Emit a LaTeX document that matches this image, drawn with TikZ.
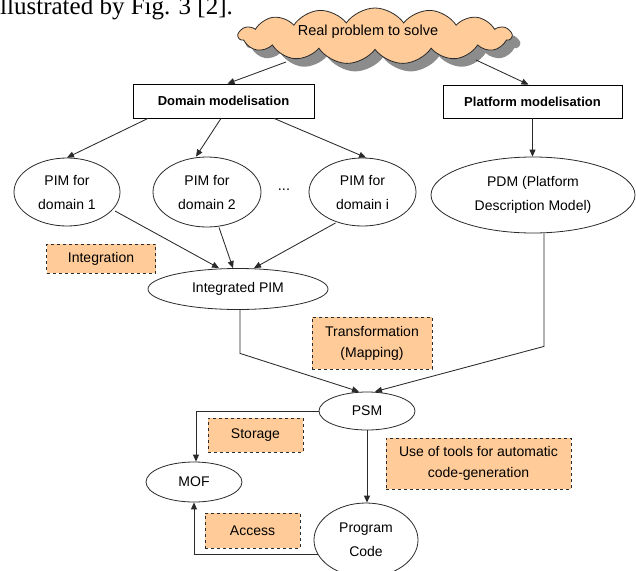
\documentclass[tikz,border=0pt]{standalone}
\usepackage{fontspec}
\setmainfont{Liberation Sans}
\newfontfamily\capfont{Liberation Serif}
\usetikzlibrary{shapes.geometric,shapes.symbols,arrows.meta,shadows,calc}
\definecolor{peach}{HTML}{FFCC99}
\definecolor{ink}{HTML}{2A2A2A}
\begin{document}
\begin{tikzpicture}[x=1pt,y=-1pt,
  every node/.style={font=\fontsize{14.5}{16}\selectfont, text=black},
  conn/.style={draw=ink, line width=0.85pt},
  arr/.style={conn, -{Triangle[length=7pt,width=6pt]}},
  ell/.style={ellipse, draw=ink, line width=0.8pt, fill=white, inner sep=0pt, align=center, font=\fontsize{14}{24}\selectfont},
  modbox/.style={rectangle, draw=black, line width=0.8pt, fill=white, inner sep=0pt, font=\bfseries\fontsize{13}{15}\selectfont},
  notebox/.style={rectangle, draw=ink, dashed, line width=0.8pt, fill=peach, inner sep=0pt, align=center, font=\fontsize{14}{21}\selectfont}
]
\useasboundingbox (0,0) rectangle (636,570);
\clip (0,0) rectangle (636,570);
\fill[white] (0,0) rectangle (636,570);

\node[anchor=base west, inner sep=0pt, font=\capfont\fontsize{25}{27}\selectfont] (cap) at (0,14) {llustrated by Fig. 3 [2].};

\node[cloud, cloud puffs=15, cloud puff arc=110, aspect=5, draw=ink, line width=0.8pt, fill=peach,
      minimum width=273pt, minimum height=56pt, inner sep=0pt,
      drop shadow={shadow xshift=8pt, shadow yshift=-8pt, fill=gray!90, opacity=1}] (cloud) at (375,36) {};
\node (cloudtxt) at (368,32) {Real problem to solve};

\node[modbox, minimum width=181pt, minimum height=34pt] (dom) at (223.5,101) {Domain modelisation};
\node[modbox, minimum width=179pt, minimum height=33pt] (plat) at (532.5,101.5) {Platform modelisation};

\node[ell, minimum width=106pt, minimum height=68pt] (pim1) at (67,192) {PIM for\\domain 1};
\node[ell, minimum width=108pt, minimum height=70pt] (pim2) at (207,192) {PIM for\\domain 2};
\node (dots) at (284,190) {...};
\node[ell, minimum width=107pt, minimum height=68pt] (pimi) at (362.5,192) {PIM for\\domain i};
\node[ell, minimum width=204pt, minimum height=76pt] (pdm) at (533,195) {PDM (Platform\\Description Model)};

\node[notebox, minimum width=109pt, minimum height=29pt] (integ) at (101,258.5) {Integration};
\node[ell, minimum width=180pt, minimum height=41pt] (intpim) at (238,289) {Integrated PIM};
\node[notebox, minimum width=120pt, minimum height=52pt] (trans) at (372,343) {Transformation\\(Mapping)};

\node[ell, minimum width=96pt, minimum height=38pt] (psm) at (367,411) {PSM};
\node[notebox, minimum width=95pt, minimum height=34pt] (storage) at (255.5,435) {Storage};
\node[ell, minimum width=96pt, minimum height=40pt] (mof) at (194,482) {MOF};
\node[notebox, minimum width=185pt, minimum height=51pt] (tools) at (478.5,463.5) {Use of tools for automatic\\code-generation};
\node[ell, minimum width=104pt, minimum height=74pt] (prog) at (366,540) {Program\\Code};
\node[notebox, minimum width=95pt, minimum height=35pt] (access) at (252.5,530.5) {Access};

% connectors
\draw[arr] ($(cloud.center)+(-89,26)$) -- ([xshift=4pt]dom.north);
\draw[arr] ($(cloud.center)+(101,24)$) -- ([xshift=-4pt]plat.north);
\draw[arr] ([xshift=-75.5pt]dom.south) -- (pim1.north);
\draw[arr] ([xshift=-2.5pt]dom.south) -- ([xshift=-11pt]pim2.north);
\draw[arr] ([xshift=50.5pt]dom.south) -- ([xshift=3.5pt]pimi.north);
\draw[arr] (plat.south) -- (plat.south |- pdm.north);
\draw[arr] ($(pim1)+(48,19)$) -- ([xshift=-19pt]intpim.north);
\draw[arr] ([xshift=12pt]pim2.south) -- ([xshift=-5pt]intpim.north);
\draw[arr] ($(pimi)+(-27,31)$) -- ([xshift=16pt]intpim.north);
\draw[arr] ([xshift=2pt]intpim.south) -- ++(0,43.5) -- ([xshift=-8pt]psm.north);
\draw[arr] ([xshift=11pt]pdm.south) -- ++(0,113) -- ([xshift=8pt]psm.north);
\draw[arr] (psm.west) -| ([xshift=2pt]mof.north);
\draw[arr] (psm.south) -- (psm.south |- prog.north);
\draw[arr] ($(prog)+(-48,14)$) -| (mof.south);
\end{tikzpicture}
\end{document}
